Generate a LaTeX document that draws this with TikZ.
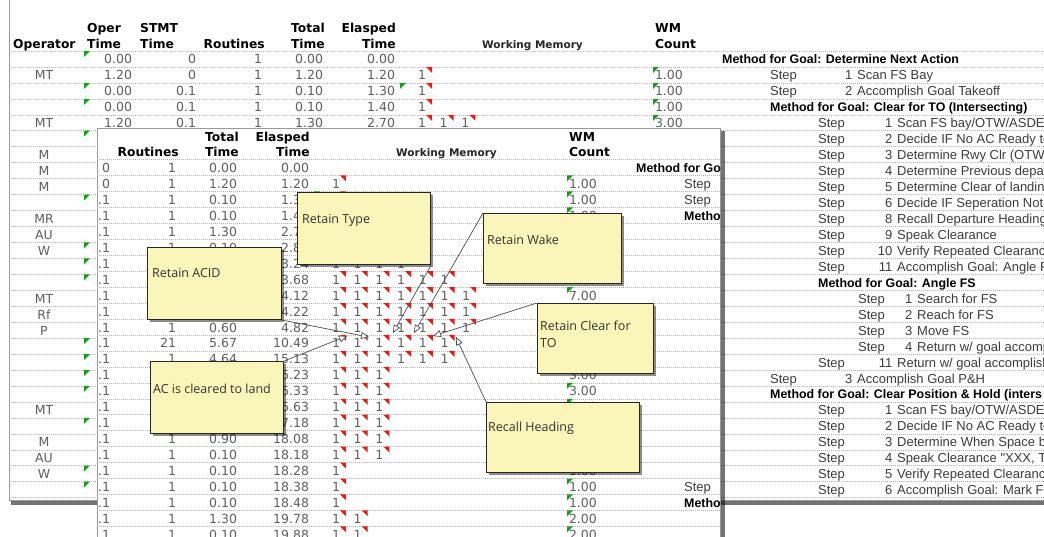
\documentclass[tikz,border=0pt]{standalone}
\usepackage{fontspec}
\usetikzlibrary{arrows.meta,shadows}
\newfontfamily\tabfont{DejaVu Sans}
\newfontfamily\methfont{Liberation Sans}
\newfontfamily\callfont{Open Sans}
\definecolor{datgray}{RGB}{95,95,95}
\definecolor{redmk}{RGB}{226,30,20}
\definecolor{grnmk}{RGB}{20,160,20}
\definecolor{callfill}{RGB}{250,246,186}
\definecolor{methgray}{RGB}{60,60,60}
\tikzset{
  rowline/.style={draw=black!30, line width=0.5pt, dash pattern=on 0.6pt off 1.4pt},
  dat/.style={font=\tabfont\fontsize{12.5}{14}\selectfont, text=datgray, inner sep=0pt, outer sep=0pt},
  hdr/.style={font=\tabfont\bfseries\fontsize{12.3}{14}\selectfont, text=black, inner sep=0pt},
  wmhdr/.style={font=\tabfont\bfseries\fontsize{10.5}{12}\selectfont, text=black!85, inner sep=0pt},
  mth/.style={font=\methfont\bfseries\fontsize{12.4}{14}\selectfont, text=black, inner sep=0pt, anchor=base west},
  stp/.style={font=\methfont\fontsize{13}{15}\selectfont, text=methgray, inner sep=0pt},
  sheet/.style={draw=black!40, line width=0.8pt, fill=white},
  callbox/.style={draw=black!85, line width=1.1pt, fill=callfill, inner sep=0pt, anchor=north west,
    drop shadow={shadow xshift=2.5pt, shadow yshift=-2.5pt, opacity=0.45, fill=black}},
  calltxt/.style={font=\callfont\fontsize{12.5}{17}\selectfont, text=black!80, inner sep=0pt, align=left},
  conn/.style={draw=black!70, line width=0.7pt, -{Triangle[length=8pt, width=7pt, fill=white]}},
}
\newcommand\methline[3]{\node[mth] (m#1) at (#2,64+15.95*#1) {#3};}
\newcommand\stepline[5]{%
  \node[stp, anchor=base west] (sw#1) at (#2,64+15.95*#1) {Step};
  \node[stp, anchor=base east] (sn#1) at (#3-4.5,64+15.95*#1) {#4};
  \node[stp, anchor=base west] (st#1) at (#3,64+15.95*#1) {#5};}
\newcommand\sheetbody{%
  \foreach \k in {0,...,28}{\draw[rowline] (9,51+15.95*\k) -- (1070,51+15.95*\k);}
  \node[hdr,anchor=base west] (hop) at (13,48.5) {Operator};
  \node[hdr,anchor=base west] (hot1) at (87,33) {Oper};
  \node[hdr,anchor=base west] (hot2) at (87,48.5) {Time};
  \node[hdr,anchor=base west] (hst1) at (140,33) {STMT};
  \node[hdr,anchor=base west] (hst2) at (140,48.5) {Time};
  \node[hdr,anchor=base east] (hro) at (265,48.5) {Routines};
  \node[hdr,anchor=base east] (htt1) at (325,33) {Total};
  \node[hdr,anchor=base east] (htt2) at (325,48.5) {Time};
  \node[hdr,anchor=base east] (hel1) at (396,33) {Elasped};
  \node[hdr,anchor=base east] (hel2) at (396,48.5) {Time};
  \node[wmhdr,anchor=base west] (hwm) at (482,48.5) {Working Memory};
  \node[hdr,anchor=base west] (hwc1) at (655,33) {WM};
  \node[hdr,anchor=base west] (hwc2) at (655,48.5) {Count};
  \foreach \i/\t in {1/MT,4/MT,6/M,7/M,8/M,10/MR,11/AU,12/W,15/MT,16/Rf,17/P,22/MT,24/M,25/AU,26/W}
    {\node[dat,anchor=base] (op\i) at (44,64+15.95*\i) {\t};}
  \foreach \i in {0,2,3,5,9,12,13,14,18,19,20,21,23,26,27}
    {\fill[grnmk] (84,51+15.95*\i) -- ++(6,0) -- ++(-6,6) -- cycle;}
  \foreach \i/\t in {0/0.00,1/1.20,2/0.00,3/0.00,4/1.20}
    {\node[dat,anchor=base east] (ot\i) at (132,64+15.95*\i) {\t};}
  \foreach \i in {0,1}{\node[dat,anchor=base east] (sm\i) at (196,64+15.95*\i) {0};}
  \foreach \i in {2,...,23}{\node[dat,anchor=base east] (sm\i) at (196,64+15.95*\i) {0.1};}
  \foreach \i in {0,...,10,12,13,...,23}{\node[dat,anchor=base east] (ro\i) at (262,64+15.95*\i) {1};}
  \node[dat,anchor=base east] (ro11) at (262,64+15.95*11) {21};
  \foreach \i/\t in {0/0.00,1/1.20,2/0.10,3/0.10,4/1.30,5/0.10,6/0.44,7/0.44,8/0.44,9/0.10,10/0.60,11/5.67,12/4.64,13/1.10,14/0.10,15/0.30,16/0.55,17/0.90,18/0.10,19/0.10,20/0.10,21/0.10,22/1.30,23/0.10}
    {\node[dat,anchor=base east] (tt\i) at (323,64+15.95*\i) {\t};}
  \foreach \i/\t in {0/0.00,1/1.20,2/1.30,3/1.40,4/2.70,5/2.80,6/3.24,7/3.68,8/4.12,9/4.22,10/4.82,11/10.49,12/15.13,13/16.23,14/16.33,15/16.63,16/17.18,17/18.08,18/18.18,19/18.28,20/18.38,21/18.48,22/19.78,23/19.88}
    {\node[dat,anchor=base east] (el\i) at (395,64+15.95*\i) {\t};}
  \fill[grnmk] (400,51+15.95*2) -- ++(6,0) -- ++(-6,6) -- cycle;
  \foreach \i/\nn in {1/1,2/1,3/1,4/3,5/3,6/4,7/6,8/7,9/7,10/7,11/6,12/6,13/3,14/3,15/3,16/3,17/3,18/3,19/1,20/1,21/1,22/2,23/2}{
    \foreach \k in {1,...,\nn}{
      \node[dat,anchor=base] (w\i-\k) at (400.3+21.7*\k,64+15.95*\i) {1};
      \fill[redmk] (404.3+21.7*\k,51+15.95*\i) -- ++(6,0) -- ++(0,6) -- cycle;
    }
    \node[dat,anchor=base west] (wc\i) at (655,64+15.95*\i) {\nn.00};
    \fill[grnmk] (653,51+15.95*\i) -- ++(6,0) -- ++(-6,6) -- cycle;
  }
  \methline{0}{722}{Method for Goal: Determine Next Action}
  \stepline{1}{770}{857}{1}{Scan FS Bay}
  \stepline{2}{770}{857}{2}{Accomplish Goal Takeoff}
  \methline{3}{770}{Method for Goal: Clear for TO (Intersecting)}
  \stepline{4}{818}{897}{1}{Scan FS bay/OTW/ASDE}
  \stepline{5}{818}{897}{2}{Decide IF No AC Ready to}
  \stepline{6}{818}{897}{3}{Determine Rwy Clr (OTW,}
  \stepline{7}{818}{897}{4}{Determine Previous depar}
  \stepline{8}{818}{897}{5}{Determine Clear of landing}
  \stepline{9}{818}{897}{6}{Decide IF Seperation Not}
  \stepline{10}{818}{897}{8}{Recall Departure Heading}
  \stepline{11}{818}{897}{9}{Speak Clearance}
  \stepline{12}{818}{897}{10}{Verify Repeated Clearance}
  \stepline{13}{818}{897}{11}{Accomplish Goal: Angle FS}
  \methline{14}{818}{Method for Goal: Angle FS}
  \stepline{15}{858}{917}{1}{Search for FS}
  \stepline{16}{858}{917}{2}{Reach for FS}
  \stepline{17}{858}{917}{3}{Move FS}
  \stepline{18}{858}{917}{4}{Return w/ goal accomp}
  \stepline{19}{818}{897}{11}{Return w/ goal accomplish}
  \stepline{20}{770}{857}{3}{Accomplish Goal P\&H}
  \methline{21}{770}{Method for Goal: Clear Position \& Hold (inters}
  \stepline{22}{818}{897}{1}{Scan FS bay/OTW/ASDE}
  \stepline{23}{818}{897}{2}{Decide IF No AC Ready to}
  \stepline{24}{818}{897}{3}{Determine When Space b}
  \stepline{25}{818}{897}{4}{Speak Clearance "XXX, T}
  \stepline{26}{818}{897}{5}{Verify Repeated Clearance}
  \stepline{27}{818}{897}{6}{Accomplish Goal: Mark F}
}
\begin{document}
\begin{tikzpicture}[x=1pt,y=-1pt]
\useasboundingbox (0,0) rectangle (1044,537);
\clip (0,0) rectangle (1044,537);
\fill[white] (0,0) rectangle (1044,537);
% back sheet
\path[sheet, drop shadow={shadow xshift=2pt, shadow yshift=-5pt, opacity=0.55, fill=black}] (9,-10) rectangle (1070,500);
\begin{scope}
  \clip (9,-10) rectangle (1070,500);
  \begin{scope}[name prefix=b-]
    \sheetbody
  \end{scope}
\end{scope}
% front sheet
\path[sheet, drop shadow={shadow xshift=5pt, shadow yshift=-3pt, opacity=0.55, fill=black}] (97,128) rectangle (720,560);
\begin{scope}
  \clip (97,128) rectangle (720,560);
  \begin{scope}[shift={(-86,108.5)}, name prefix=f-]
    \sheetbody
  \end{scope}
\end{scope}
% callouts
\node[callbox, minimum width=133pt, minimum height=72pt] (type) at (297,192) {};
\node[callbox, minimum width=134pt, minimum height=72pt] (acid) at (147,247) {};
\node[callbox, minimum width=138pt, minimum height=70pt] (wake) at (483,213) {};
\node[callbox, minimum width=116pt, minimum height=70pt] (clear) at (537,303) {};
\node[callbox, minimum width=133pt, minimum height=72pt] (ac) at (150,361) {};
\node[callbox, minimum width=153pt, minimum height=70pt] (recall) at (486,402) {};
\node[calltxt, anchor=base west] (typeT) at ([xshift=5pt,yshift=-32pt]type.north west) {Retain Type};
\node[calltxt, anchor=base west] (acidT) at ([xshift=5pt,yshift=-31pt]acid.north west) {Retain ACID};
\node[calltxt, anchor=base west] (wakeT) at ([xshift=4pt,yshift=-32pt]wake.north west) {Retain Wake};
\node[calltxt, anchor=west] (clearT) at ([xshift=3pt,yshift=-31.75pt]clear.north west) {Retain Clear for\\TO};
\node[calltxt, anchor=base west] (acT) at ([xshift=3pt,yshift=-32pt]ac.north west) {AC is cleared to land};
\node[calltxt, anchor=base west] (recallT) at ([xshift=2pt,yshift=-29pt]recall.north west) {Recall Heading};
% connectors
\coordinate (tipacid) at (369,337);
\coordinate (tipac) at (347,336);
\coordinate (tiptype) at (393,333);
\coordinate (tipwake) at (414,333);
\coordinate (tipclear) at (433,336);
\coordinate (tiprecall) at (456,337);
\draw[conn] (acid.south east) -- (tipacid);
\draw[conn] (ac.north east) -- (tipac);
\draw[conn] (type.south east) -- (tiptype);
\draw[conn] (wake.north west) -- (tipwake);
\draw[conn] (clear.north west) -- (tipclear);
\draw[conn] (recall.north west) -- (tiprecall);
\end{tikzpicture}
\end{document}
